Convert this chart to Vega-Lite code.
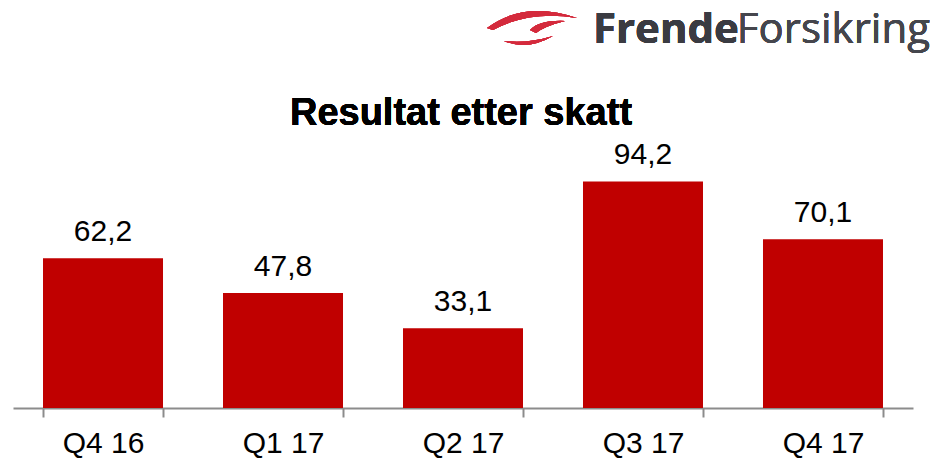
{
  "$schema": "https://vega.github.io/schema/vega-lite/v6.json",
  "autosize": "none",
  "width": 900,
  "height": 268,
  "padding": {"left": 13, "top": 140, "right": 23, "bottom": 51},
  "background": "white",
  "data": {
    "values": [
      {"kvartal": "Q4 16", "resultat": 62.2, "etikett": "62,2"},
      {"kvartal": "Q1 17", "resultat": 47.8, "etikett": "47,8"},
      {"kvartal": "Q2 17", "resultat": 33.1, "etikett": "33,1"},
      {"kvartal": "Q3 17", "resultat": 94.2, "etikett": "94,2"},
      {"kvartal": "Q4 17", "resultat": 70.1, "etikett": "70,1"}
    ]
  },
  "encoding": {
    "x": {
      "field": "kvartal",
      "type": "nominal",
      "sort": null,
      "scale": {"paddingInner": 0.3333, "paddingOuter": 0.1667},
      "axis": {
        "title": null,
        "labelAngle": 0,
        "labelFont": "Liberation Sans",
        "labelFontSize": 30,
        "labelColor": "#000000",
        "labelPadding": 11,
        "tickBand": "extent",
        "tickSize": 9,
        "tickColor": "#8c8c8c",
        "tickWidth": 2,
        "domainColor": "#8c8c8c",
        "domainWidth": 2,
        "grid": false
      }
    },
    "y": {
      "field": "resultat",
      "type": "quantitative",
      "scale": {"domain": [0, 111.4], "nice": false},
      "axis": null
    }
  },
  "layer": [
    {"mark": {"type": "bar", "color": "#C00000"}},
    {
      "mark": {
        "type": "text",
        "font": "Liberation Sans",
        "fontSize": 30,
        "color": "#000000",
        "baseline": "alphabetic",
        "dy": -17
      },
      "encoding": {"text": {"field": "etikett"}}
    },
    {
      "mark": {
        "type": "text",
        "font": "Liberation Sans",
        "fontSize": 38,
        "fontWeight": "bold",
        "color": "#000000",
        "align": "center",
        "baseline": "alphabetic",
        "dx": -2,
        "clip": false
      },
      "encoding": {
        "x": {"datum": "Q2 17"},
        "y": {"datum": 117.7},
        "text": {"value": "Resultat etter skatt"}
      }
    },
    {
      "mark": {
        "type": "point",
        "filled": true,
        "color": "#D42A3C",
        "opacity": 1,
        "strokeWidth": 0,
        "size": 4,
        "shape": "M-156,1 Q-118,-27 -66,-9 Q-113,-17 -150,3 Z M-113,3 Q-103,-7 -78,-6 Q-98,-1 -107,6 Z M-139,14 Q-116,24 -90,9 Q-116,17 -139,14 Z",
        "clip": false
      },
      "encoding": {
        "x": {"datum": "Q3 17"},
        "y": {"datum": 158.4}
      }
    },
    {
      "mark": {
        "type": "text",
        "font": "Open Sans",
        "fontSize": 42,
        "fontWeight": "bold",
        "color": "#3a3b42",
        "align": "left",
        "baseline": "alphabetic",
        "dx": -230,
        "clip": false
      },
      "encoding": {
        "x": {"datum": "Q4 17"},
        "y": {"datum": 151.6},
        "text": {"value": "Frende"}
      }
    },
    {
      "mark": {
        "type": "text",
        "font": "Open Sans",
        "fontSize": 42,
        "color": "#45464d",
        "align": "right",
        "baseline": "alphabetic",
        "dx": 107,
        "clip": false
      },
      "encoding": {
        "x": {"datum": "Q4 17"},
        "y": {"datum": 151.6},
        "text": {"value": "Forsikring"}
      }
    }
  ],
  "config": {"view": {"stroke": null}}
}
